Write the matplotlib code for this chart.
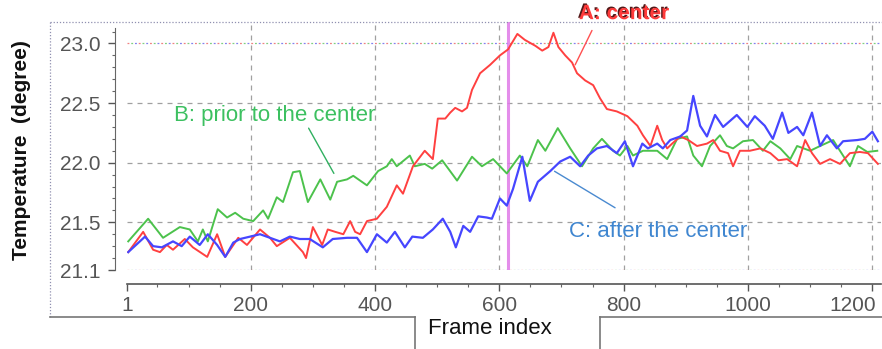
import matplotlib.pyplot as plt
import matplotlib.patheffects as pe
from matplotlib.lines import Line2D
from matplotlib.ticker import MultipleLocator
from matplotlib.transforms import ScaledTranslation

# Données (frame, température)
frames_a = [3, 27, 43, 54, 65, 75, 94, 107, 130, 146, 159, 180, 194, 215, 231, 242, 263, 284, 289, 300,
            315, 324, 336, 349, 360, 368, 376, 387, 403, 419, 435, 445, 461, 480, 493, 501, 513, 521, 529, 540,
            548, 556, 569, 585, 601, 614, 629, 641, 658, 669, 679, 687, 695, 706, 717, 725, 738, 751, 762, 773,
            789, 806, 822, 831, 843, 854, 862, 870, 878, 891, 904, 918, 934, 944, 955, 968, 976, 987, 1003, 1020,
            1036, 1049, 1063, 1079, 1092, 1103, 1116, 1132, 1148, 1164, 1180, 1193, 1209]
temps_a = [21.25, 21.42, 21.27, 21.25, 21.31, 21.27, 21.36, 21.29, 21.21, 21.40, 21.21, 21.37, 21.31, 21.44,
           21.37, 21.30, 21.37, 21.25, 21.20, 21.46, 21.31, 21.44, 21.42, 21.40, 21.51, 21.42, 21.40, 21.51,
           21.53, 21.63, 21.81, 21.74, 21.97, 22.10, 22.03, 22.37, 22.37, 22.42, 22.46, 22.43, 22.46, 22.61,
           22.75, 22.82, 22.90, 22.95, 23.08, 23.03, 22.98, 22.94, 22.97, 23.09, 22.97, 22.90, 22.84, 22.75,
           22.69, 22.65, 22.54, 22.45, 22.43, 22.39, 22.31, 22.23, 22.14, 22.31, 22.19, 22.12, 22.16, 22.22,
           22.19, 22.14, 22.16, 22.19, 22.10, 22.08, 21.97, 22.10, 22.10, 22.12, 22.08, 22.02, 22.03, 21.97,
           22.19, 22.08, 21.99, 22.03, 21.99, 22.08, 22.09, 22.08, 21.99]

frames_b = [3, 35, 59, 86, 102, 115, 123, 131, 147, 162, 175, 188, 204, 220, 228, 242, 252, 268, 279, 292,
            312, 328, 339, 355, 365, 387, 405, 419, 427, 435, 456, 464, 480, 492, 508, 532, 556, 572, 590, 612,
            633, 645, 662, 674, 694, 714, 733, 751, 765, 783, 794, 806, 815, 831, 854, 870, 886, 902, 912, 926,
            939, 955, 966, 976, 992, 1008, 1024, 1036, 1052, 1068, 1079, 1100, 1116, 1137, 1148, 1164, 1177,
            1192, 1208]
temps_b = [21.34, 21.53, 21.37, 21.46, 21.44, 21.34, 21.44, 21.34, 21.61, 21.54, 21.58, 21.53, 21.51, 21.60,
           21.53, 21.71, 21.67, 21.92, 21.93, 21.67, 21.86, 21.69, 21.84, 21.86, 21.89, 21.81, 21.93, 21.97,
           22.03, 21.97, 22.06, 21.97, 21.99, 21.95, 22.02, 21.85, 22.05, 21.97, 22.03, 21.91, 22.06, 21.97,
           22.19, 22.10, 22.29, 22.12, 21.97, 22.12, 22.20, 22.10, 22.06, 22.14, 22.06, 22.10, 22.10, 22.03,
           22.20, 22.22, 22.06, 21.97, 22.14, 22.23, 22.14, 22.12, 22.18, 22.19, 22.10, 22.18, 22.12, 22.03,
           22.14, 22.10, 22.14, 22.19, 22.10, 21.97, 22.14, 22.09, 22.10]

frames_c = [3, 30, 43, 57, 75, 89, 102, 118, 131, 146, 159, 172, 183, 199, 215, 231, 247, 263, 279, 295,
            316, 332, 355, 371, 387, 403, 419, 432, 448, 460, 477, 493, 509, 521, 530, 542, 553, 566, 580, 588,
            601, 612, 622, 637, 649, 662, 682, 698, 714, 730, 743, 757, 773, 789, 802, 815, 830, 839, 854, 863,
            875, 891, 902, 912, 923, 934, 947, 960, 982, 999, 1011, 1027, 1040, 1055, 1065, 1079, 1089, 1103,
            1116, 1127, 1143, 1153, 1176, 1188, 1200, 1209]
temps_c = [21.25, 21.38, 21.30, 21.29, 21.34, 21.30, 21.38, 21.31, 21.40, 21.31, 21.21, 21.33, 21.36, 21.38,
           21.40, 21.37, 21.34, 21.38, 21.36, 21.36, 21.29, 21.36, 21.37, 21.37, 21.25, 21.40, 21.33, 21.42,
           21.29, 21.38, 21.37, 21.44, 21.53, 21.42, 21.29, 21.47, 21.42, 21.55, 21.54, 21.53, 21.70, 21.64,
           21.78, 22.05, 21.68, 21.84, 21.93, 22.01, 22.05, 21.97, 22.06, 22.12, 22.14, 22.08, 22.18, 21.97,
           22.16, 22.12, 22.16, 22.12, 22.19, 22.22, 22.27, 22.56, 22.31, 22.22, 22.40, 22.30, 22.40, 22.30,
           22.39, 22.31, 22.20, 22.42, 22.25, 22.30, 22.23, 22.42, 22.14, 22.23, 22.12, 22.18, 22.19, 22.20,
           22.26, 22.18]

center_frame = 614
x_ticks = [1, 200, 400, 600, 800, 1000, 1200]
y_ticks = [21.1, 21.5, 22.0, 22.5, 23.0]

plt.rcParams['font.family'] = ['Liberation Sans', 'DejaVu Sans']

fig = plt.figure(figsize=(8.82, 3.49), dpi=100)
W, H = 882, 349
ax = fig.add_axes([127 / W, 1 - 270 / H, (881 - 127) / W, (270 - 22) / H])

# grille
for xv in x_ticks[1:]:
    ax.axvline(xv, color='#a0a0a0', lw=0.9, ls=(0, (4, 4)), zorder=0)
for yv in [21.5, 22.0, 22.5]:
    ax.axhline(yv, color='#a0a0a0', lw=0.9, ls=(0, (4, 4)), zorder=0)
for yv in [21.1, 23.0]:
    for off, c in [(0, '#f08080'), (3, '#8080f0'), (6, '#80d080')]:
        ax.axhline(yv, color=c, lw=0.9, ls=(off, (1.5, 7.5)), zorder=0)

# ligne verticale du centre
ax.axvline(center_frame, color='#e07ae8', lw=2.2, alpha=0.85, zorder=1)

# courbes
ax.plot(frames_b, temps_b, color='#4cc24c', lw=1.4, zorder=2)
ax.plot(frames_a, temps_a, color='#ff4040', lw=1.4, zorder=3)
ax.plot(frames_c, temps_c, color='#4646ff', lw=1.6, zorder=4)

ax.set_xlim(1, 1214)
ax.set_ylim(21.1, 23.18)

# axes
for s in ['top', 'right']:
    ax.spines[s].set_visible(False)
ax.spines['left'].set_position(('outward', 9))
ax.spines['bottom'].set_position(('outward', 10))
ax.spines['left'].set_bounds(21.1, 23.13)
ax.spines['left'].set_color('#666666')
ax.spines['bottom'].set_color('#555555')
ax.spines['bottom'].set_linewidth(1.2)

ax.set_xticks(x_ticks)
ax.set_xticklabels([str(v) for v in x_ticks])
ax.set_yticks(y_ticks)
ax.set_yticklabels([f'{v:.1f}' for v in y_ticks])
ax.xaxis.set_minor_locator(MultipleLocator(50))
ax.yaxis.set_minor_locator(MultipleLocator(0.1))
ax.tick_params(axis='both', which='major', colors='#555555', labelsize=15, length=5, width=1)
ax.tick_params(axis='both', which='minor', colors='#666666', length=2.5, width=0.8)
ax.tick_params(axis='y', which='major', pad=5)
ax.tick_params(axis='x', which='major', pad=4)

# le dernier label est décalé pour rester dans l'image
last = ax.get_xticklabels()[-1]
last.set_transform(last.get_transform() + ScaledTranslation(-0.2, 0, fig.dpi_scale_trans))

# annotations
ax.annotate('', xy=(720, 22.80), xytext=(751, 23.13),
            arrowprops=dict(arrowstyle='-', color='#ff5050', lw=1), annotation_clip=False)
ax.text(801, 23.25, 'A: center', color='#ff3a3a', fontsize=15, fontweight='bold',
        ha='center', va='center', clip_on=False,
        path_effects=[pe.withSimplePatchShadow(offset=(-1, 1), shadow_rgbFace='#400000', alpha=0.9)])

ax.annotate('', xy=(336, 21.89), xytext=(291, 22.31),
            arrowprops=dict(arrowstyle='-', color='#30b060', lw=1))
ax.text(239, 22.40, 'B: prior to the center', color='#3cc060', fontsize=16,
        ha='center', va='center')

ax.annotate('', xy=(790, 21.61), xytext=(685, 21.94),
            arrowprops=dict(arrowstyle='-', color='#4a8ad0', lw=1))
ax.text(856, 21.42, 'C: after the center', color='#3f86d0', fontsize=16,
        ha='center', va='center')

# titre de l'axe y
fig.text(22 / W, 1 - 150 / H, 'Temperature  (degree)', rotation=90, fontsize=15,
         fontweight='bold', ha='center', va='center', color='#111111')

# cadre et onglet "Frame index"
def fline(x0, y0, x1, y1, **kw):
    fig.add_artist(Line2D([x0 / W, x1 / W], [1 - y0 / H, 1 - y1 / H], transform=fig.transFigure, **kw))

dotted = dict(color='#9090b0', lw=0.9, ls=(0, (1, 1.5)))
fline(50, 22, 882, 22, **dotted)
fline(50, 22, 50, 317, **dotted)
solid = dict(color='#777777', lw=1.2)
fline(50, 317, 415, 317, **solid)
fline(415, 317, 415, 349, **solid)
fline(600, 317, 600, 349, **solid)
fline(600, 317, 882, 317, **solid)
fig.text(428 / W, 1 - 329 / H, 'Frame index', fontsize=16, ha='left', va='center', color='#111111')

fig.savefig('out.png', dpi=100)
